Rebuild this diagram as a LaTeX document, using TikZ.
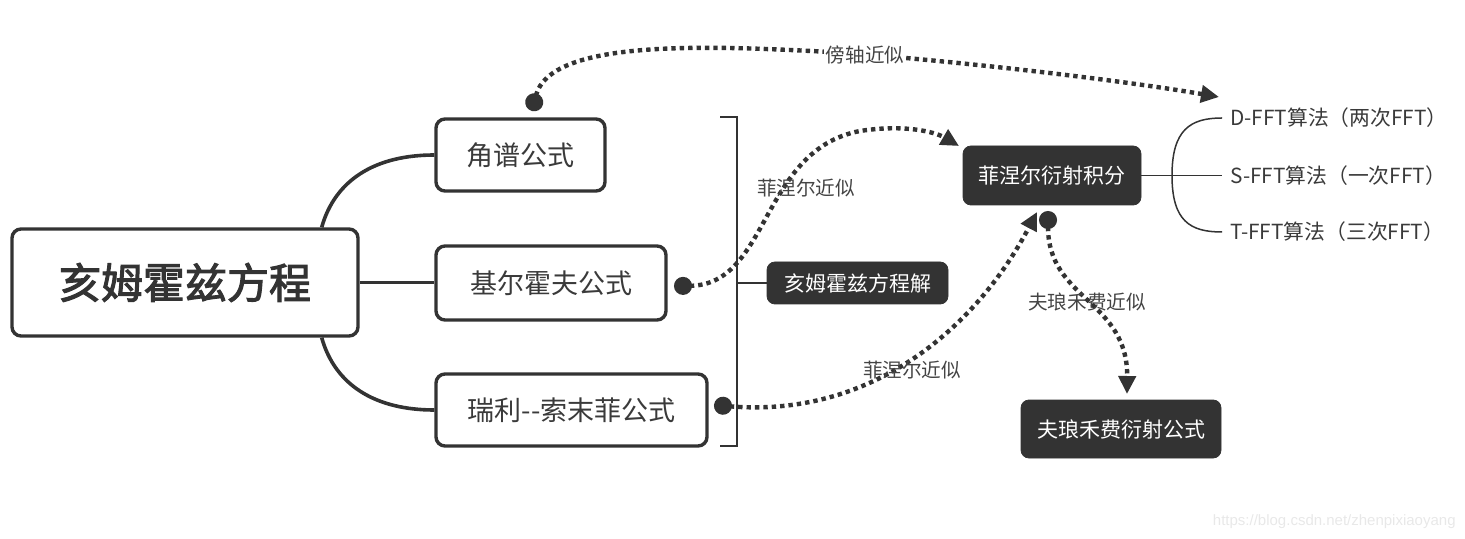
\documentclass[tikz,border=0pt]{standalone}
\usepackage{fontspec}
\setmainfont{Noto Sans CJK SC}[AutoFakeBold=2.5]
\newfontfamily\wmfont{Liberation Sans}
\usetikzlibrary{arrows.meta,calc}
\definecolor{ink}{HTML}{333333}
\definecolor{txt}{HTML}{3A3A3A}
\definecolor{lbl}{HTML}{444444}
\definecolor{wm}{HTML}{E8E8E8}
\tikzset{
  topicbox/.style={draw=ink, line width=1.7pt, rounded corners=4.5pt, fill=white, text=txt, font=\fontsize{13.5pt}{15pt}\selectfont, inner sep=0pt},
  mainbox/.style={topicbox, font=\bfseries\fontsize{21pt}{24pt}\selectfont, text=ink},
  darkbox/.style={fill=ink, draw=ink, rounded corners=4pt, text=white, font=\fontsize{10.5pt}{12pt}\selectfont, inner sep=0pt},
  branch/.style={draw=ink, line width=1.8pt},
  thinbranch/.style={draw=ink, line width=0.75pt},
  leaf/.style={anchor=west, text=txt, font=\fontsize{10.4pt}{12pt}\selectfont, inner xsep=4pt},
  dotarrow/.style={draw=ink, line width=2.2pt, dash pattern=on 2.2pt off 2pt, {Circle[length=9pt]}-{Triangle[length=9pt,width=8.5pt]}},
  clabel/.style={text=lbl, font=\fontsize{9.8pt}{11pt}\selectfont, inner sep=1pt},
}
\begin{document}
\begin{tikzpicture}[x=0.5pt,y=-0.5pt]
\useasboundingbox (0,0) rectangle (1465,539);
% nodes
\node[mainbox, minimum width=173pt, minimum height=53.5pt] (main) at (185,282.5) {亥姆霍兹方程};
\node[topicbox, minimum width=84.5pt, minimum height=36pt] (jiao) at (520.5,155) {角谱公式};
\node[topicbox, minimum width=115pt, minimum height=37pt] (kir) at (551,283) {基尔霍夫公式};
\node[topicbox, minimum width=135.5pt, minimum height=36pt] (ray) at (571.5,410) {瑞利-{}-索末菲公式};
\node[darkbox, minimum width=90.5pt, minimum height=21pt] (sol) at (857.5,283) {亥姆霍兹方程解};
\node[darkbox, minimum width=89pt, minimum height=29.5pt] (fres) at (1052,175.5) {菲涅尔衍射积分};
\node[darkbox, minimum width=100pt, minimum height=29pt] (fraun) at (1121,429) {夫琅禾费衍射公式};
\node[leaf] (dfft) at (1222,118) {D-FFT算法（两次FFT）};
\node[leaf] (sfft) at (1222,175.5) {S-FFT算法（一次FFT）};
\node[leaf] (tfft) at (1222,232) {T-FFT算法（三次FFT）};
% main branches
\draw[branch] ($(main.north east)+(-38,0)$) .. controls (335,180) and (375,155) .. (jiao.west);
\draw[branch] (main.east) -- (kir.west |- main.east);
\draw[branch] ($(main.south east)+(-38,0)$) .. controls (335,385) and (375,410) .. (ray.west);
% bracket
\coordinate (bt) at (720,117);
\coordinate (bb) at (720,446);
\draw[draw=ink, line width=1.4pt] (bt) -- (737,117) -- (737,446) -- (bb);
\draw[draw=ink, line width=1.4pt] (737,283) -- (sol.west);
% FFT branches
\coordinate (split) at (1172,175.5);
\draw[thinbranch] (fres.east) -- (sfft.west);
\draw[thinbranch] (split) .. controls (1172,130) and (1190,118) .. (dfft.west);
\draw[thinbranch] (split) .. controls (1172,221) and (1190,232) .. (tfft.west);
% dotted arrows
\coordinate (d1) at (532,111);
\coordinate (a1) at (1219,97);
\draw[dotarrow] (d1) .. controls (550,40) and (700,45) .. (830,52) .. controls (950,60) and (1120,80) .. (a1);
\node[clabel, fill=white] (l1) at (865,55) {傍轴近似};
\coordinate (d2) at (674,286);
\coordinate (a2) at (959,146);
\draw[dotarrow] (d2) .. controls (770,285) and (760,150) .. (860,131) .. controls (905,124) and (935,132) .. (a2);
\node[clabel] (l2) at (806,188) {菲涅尔近似};
\coordinate (d3) at (714,405);
\coordinate (a3) at (1037,212);
\draw[dotarrow] (d3) .. controls (870,418) and (975,330) .. (a3);
\node[clabel] (l3) at (912,370) {菲涅尔近似};
\coordinate (d4) at (1048,211);
\coordinate (a4) at (1127,394);
\draw[dotarrow] (d4) .. controls (1048,300) and (1128,300) .. (a4);
\node[clabel] (l4) at (1087,302) {夫琅禾费近似};
% watermark
\node[text=wm, font=\wmfont\fontsize{7.5pt}{9pt}\selectfont, anchor=east, inner sep=0pt] (wmk) at (1456,522) {https://blog.csdn.net/zhenpixiaoyang};
\end{tikzpicture}
\end{document}
